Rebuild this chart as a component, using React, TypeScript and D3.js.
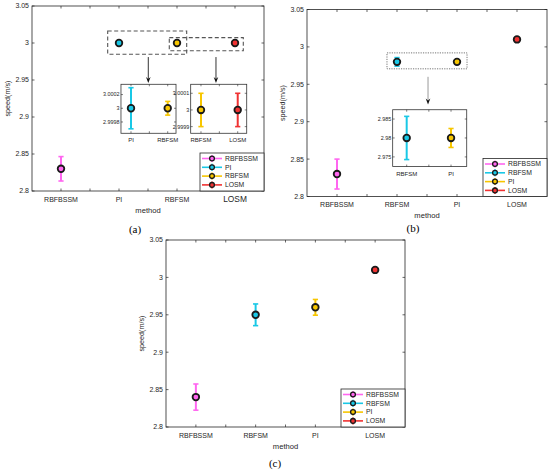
import React from "react";
import * as d3 from "d3";

// speed results of the four controllers, three test cases
const speedTicks = [2.8, 2.85, 2.9, 2.95, 3, 3.05];

const methodsA = ["RBFBSSM", "PI", "RBFSM", "LOSM"];
const speedA = [2.83, 3.0, 3.0, 3.0];
const errA = [0.0165, 0.0003, 0.0001, 0.0001];

const methodsB = ["RBFBSSM", "RBFSM", "PI", "LOSM"];
const speedB = [2.83, 2.98, 2.98, 3.01];
const errB = [0.02, 0.0057, 0.0025, 0.0008];

const methodsC = ["RBFBSSM", "RBFSM", "PI", "LOSM"];
const speedC = [2.84, 2.95, 2.96, 3.01];
const errC = [0.0175, 0.0145, 0.0105, 0.0008];

const PINK = "#ff66f0";
const CYAN = "#19c8e6";
const YELLOW = "#f7c600";
const RED = "#f03232";
const colorsA = [PINK, CYAN, YELLOW, RED];
const colorsB = [PINK, CYAN, YELLOW, RED];

const INK = "#262626";
const FONT = "'Liberation Sans', Arial, sans-serif";

const fmt = (v: number) => String(+v.toFixed(5));

function ErrPoint({ cx, cy, y0, y1, color }: any) {
  return (
    <g>
      <line x1={cx} x2={cx} y1={y0} y2={y1} stroke={color} strokeWidth={2} />
      <line x1={cx - 2.6} x2={cx + 2.6} y1={y0} y2={y0} stroke={color} strokeWidth={1.6} />
      <line x1={cx - 2.6} x2={cx + 2.6} y1={y1} y2={y1} stroke={color} strokeWidth={1.6} />
      <circle cx={cx} cy={cy} r={3.3} fill={color} stroke="#1a1a1a" strokeWidth={1.8} />
    </g>
  );
}

function Arrow({ x, y0, y1, color }: any) {
  return (
    <g>
      <line x1={x} x2={x} y1={y0} y2={y1 - 4} stroke={color} strokeWidth={1} />
      <path d={`M${x - 2.3},${y1 - 6} L${x},${y1} L${x + 2.3},${y1 - 6} L${x},${y1 - 4} Z`} fill="#111" />
    </g>
  );
}

function Inset({ px, py, spec, methods, speed, err, colors }: any) {
  const bx0 = px(spec.box[0]);
  const bx1 = px(spec.box[1]);
  const by0 = py(spec.box[3]);
  const by1 = py(spec.box[2]);
  const x = d3.scaleLinear().domain(spec.xDomain).range([bx0, bx1]);
  const y = d3.scaleLinear().domain(spec.yDomain).range([by1, by0]);
  const i0 = spec.idx[0];
  const halfTicks = [i0 + 1, i0 + 1.5, i0 + 2];
  return (
    <g>
      <rect x={bx0} y={by0} width={bx1 - bx0} height={by1 - by0} fill="#fff" stroke="#333" strokeWidth={0.8} />
      {halfTicks.map((t) => (
        <g key={t}>
          <line x1={x(t)} x2={x(t)} y1={by1} y2={by1 - 2} stroke={INK} strokeWidth={0.6} />
          <line x1={x(t)} x2={x(t)} y1={by0} y2={by0 + 2} stroke={INK} strokeWidth={0.6} />
        </g>
      ))}
      {spec.yTicks.map((t: number) => (
        <g key={t}>
          <line x1={bx0} x2={bx0 + 2} y1={y(t)} y2={y(t)} stroke={INK} strokeWidth={0.6} />
          <line x1={bx1} x2={bx1 - 2} y1={y(t)} y2={y(t)} stroke={INK} strokeWidth={0.6} />
          <text x={bx0 - 1.5} y={y(t)} dy="0.35em" textAnchor="end" fontSize={5.4} fill={INK} fontFamily={FONT}>
            {fmt(t)}
          </text>
        </g>
      ))}
      {spec.idx.map((i: number) => (
        <g key={i}>
          <text x={x(i + 1)} y={by1 + 9} textAnchor="middle" fontSize={6} fill={INK} fontFamily={FONT}>
            {methods[i]}
          </text>
          <ErrPoint
            cx={x(i + 1)}
            cy={y(speed[i])}
            y0={y(speed[i] + err[i])}
            y1={y(speed[i] - err[i])}
            color={colors[i]}
          />
        </g>
      ))}
    </g>
  );
}

function Panel({ frame, methods, speed, err, colors, insets, boxes, arrows, tag, tagPos, bigLast }: any) {
  const x = d3.scaleLinear().domain([0.5, 4.5]).range([frame.left, frame.right]);
  const y = d3.scaleLinear().domain([2.8, 3.05]).range([frame.bottom, frame.top]);
  const xTicks = d3.range(1, 4.01, 0.5);
  const lw = 64;
  const lh = 38;
  const lx = frame.right - lw;
  const ly = frame.bottom - lh;
  return (
    <g fontFamily={FONT}>
      <rect
        x={frame.left}
        y={frame.top}
        width={frame.right - frame.left}
        height={frame.bottom - frame.top}
        fill="#fff"
        stroke={INK}
        strokeWidth={0.8}
      />
      {xTicks.map((t) => (
        <g key={t}>
          <line x1={x(t)} x2={x(t)} y1={frame.bottom} y2={frame.bottom - 2.5} stroke={INK} strokeWidth={0.7} />
          <line x1={x(t)} x2={x(t)} y1={frame.top} y2={frame.top + 2.5} stroke={INK} strokeWidth={0.7} />
        </g>
      ))}
      {methods.map((m: string, i: number) => (
        <text
          key={m}
          x={x(i + 1)}
          y={frame.bottom + 10.5}
          textAnchor="middle"
          fontSize={bigLast && i === 3 ? 8.4 : 7}
          fill={INK}
        >
          {m}
        </text>
      ))}
      {speedTicks.map((t) => (
        <g key={t}>
          <line x1={frame.left} x2={frame.left + 2.5} y1={y(t)} y2={y(t)} stroke={INK} strokeWidth={0.7} />
          <line x1={frame.right} x2={frame.right - 2.5} y1={y(t)} y2={y(t)} stroke={INK} strokeWidth={0.7} />
          <text x={frame.left - 3} y={y(t)} dy="0.35em" textAnchor="end" fontSize={7} fill={INK}>
            {fmt(t)}
          </text>
        </g>
      ))}
      <text
        transform={`translate(${frame.left - 22},${(frame.top + frame.bottom) / 2}) rotate(-90)`}
        textAnchor="middle"
        fontSize={7.2}
        fill={INK}
      >
        speed(m/s)
      </text>
      <text
        x={(frame.left + frame.right) / 2}
        y={frame.bottom + 21.5}
        textAnchor="middle"
        fontSize={7.6}
        fill={INK}
      >
        method
      </text>
      <text
        x={tagPos[0]}
        y={tagPos[1]}
        dy="0.35em"
        textAnchor="middle"
        fontSize={11}
        fontFamily="'Liberation Serif', 'Times New Roman', serif"
        fill="#000"
      >
        {tag}
      </text>

      {boxes.map((b: any, k: number) => (
        <rect
          key={k}
          x={x(b.x[0])}
          y={y(b.y[1])}
          width={x(b.x[1]) - x(b.x[0])}
          height={y(b.y[0]) - y(b.y[1])}
          fill="none"
          stroke={b.color}
          strokeWidth={b.width}
          strokeDasharray={b.dash}
        />
      ))}
      {arrows.map((a: any, k: number) => (
        <Arrow key={k} x={x(a.x)} y0={y(a.y[0])} y1={y(a.y[1])} color={a.color} />
      ))}

      {methods.map((m: string, i: number) => (
        <ErrPoint
          key={m}
          cx={x(i + 1)}
          cy={y(speed[i])}
          y0={y(speed[i] + err[i])}
          y1={y(speed[i] - err[i])}
          color={colors[i]}
        />
      ))}

      {insets.map((s: any, k: number) => (
        <Inset key={k} px={x} py={y} spec={s} methods={methods} speed={speed} err={err} colors={colors} />
      ))}

      <rect x={lx} y={ly} width={lw} height={lh} fill="#fff" stroke={INK} strokeWidth={0.8} />
      {methods.map((m: string, i: number) => {
        const ry = ly + 5.5 + i * 8.8;
        return (
          <g key={m}>
            <line x1={lx + 2} x2={lx + 22} y1={ry} y2={ry} stroke={colors[i]} strokeWidth={1.6} />
            <line x1={lx + 12} x2={lx + 12} y1={ry - 3.5} y2={ry + 3.5} stroke={colors[i]} strokeWidth={1.6} />
            <circle cx={lx + 12} cy={ry} r={2.4} fill={colors[i]} stroke="#1a1a1a" strokeWidth={1.3} />
            <text x={lx + 25} y={ry} dy="0.35em" fontSize={6.8} fill={INK}>
              {m}
            </text>
          </g>
        );
      })}
    </g>
  );
}

const insetsA = [
  {
    idx: [1, 2],
    box: [2.034, 2.983, 2.878, 2.9442],
    xDomain: [1.727, 3.226],
    yDomain: [2.999635, 3.00035],
    yTicks: [2.9998, 3, 3.0002],
  },
  {
    idx: [2, 3],
    box: [3.236, 4.202, 2.878, 2.9442],
    xDomain: [2.72, 4.245],
    yDomain: [2.99986, 3.000154],
    yTicks: [2.9999, 3, 3.0001],
  },
];

const boxesA = [
  { x: [1.805, 3.167], y: [2.9847, 3.0162], color: "#555", width: 1.1, dash: "4,2.5" },
  { x: [2.867, 4.143], y: [2.9896, 3.0072], color: "#555", width: 1.1, dash: "4,2.5" },
];

const arrowsA = [
  { x: 2.505, y: [2.981, 2.946], color: "#333" },
  { x: 3.672, y: [2.981, 2.946], color: "#333" },
];

const insetsB = [
  {
    idx: [1, 2],
    box: [1.928, 3.162, 2.84, 2.916],
    xDomain: [1.684, 3.354],
    yDomain: [2.97245, 2.98745],
    yTicks: [2.975, 2.98, 2.985],
  },
];

const boxesB = [{ x: [1.833, 3.167], y: [2.9707, 2.992], color: "#666", width: 0.9, dash: "1.2,1.2" }];
const arrowsB = [{ x: 2.517, y: [2.96, 2.923], color: "#999" }];

export default function App() {
  return (
    <svg
      width={550}
      height={472}
      viewBox="0 0 550 472"
      style={{ position: "absolute", left: 0, top: 0, background: "#fff" }}
    >
      <rect width={550} height={472} fill="#fff" />
      <Panel
        frame={{ left: 32, right: 264, top: 6, bottom: 191 }}
        methods={methodsA}
        speed={speedA}
        err={errA}
        colors={colorsA}
        insets={insetsA}
        boxes={boxesA}
        arrows={arrowsA}
        tag="(a)"
        tagPos={[135, 229]}
        bigLast
      />
      <Panel
        frame={{ left: 307, right: 547, top: 9.5, bottom: 196.5 }}
        methods={methodsB}
        speed={speedB}
        err={errB}
        colors={colorsB}
        insets={insetsB}
        boxes={boxesB}
        arrows={arrowsB}
        tag="(b)"
        tagPos={[413, 228]}
      />
      <Panel
        frame={{ left: 166, right: 405, top: 240, bottom: 427 }}
        methods={methodsC}
        speed={speedC}
        err={errC}
        colors={colorsB}
        insets={[]}
        boxes={[]}
        arrows={[]}
        tag="(c)"
        tagPos={[275, 463]}
      />
    </svg>
  );
}
